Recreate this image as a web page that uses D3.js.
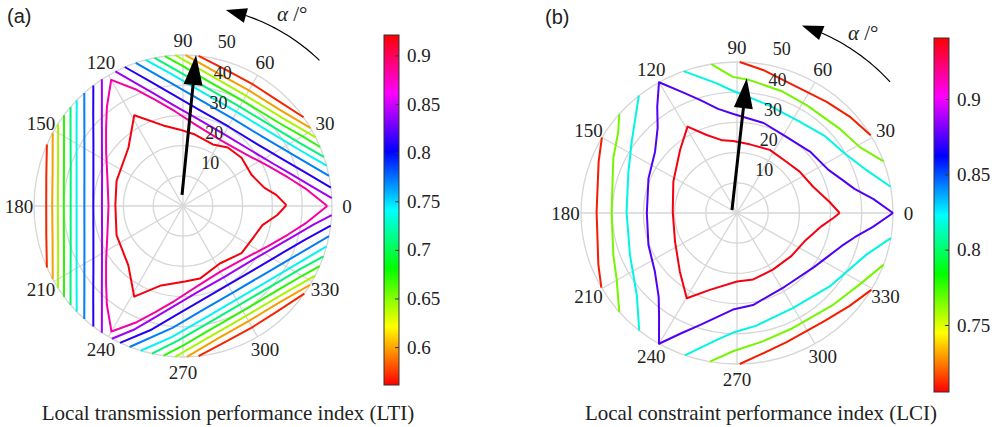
<!DOCTYPE html>
<html lang="en">
<head>
<meta charset="UTF-8">
<title>LTI / LCI polar contours</title>
<style>
  body { margin: 0; background: #fff; }
  svg { display: block; }
  text { font-family: "Liberation Serif", "Times New Roman", serif; fill: #222; }
</style>
</head>
<body>
<div id="chart"></div>
<script src="https://d3js.org/d3.v7.min.js"></script>
<script>
// shared polar grid
var angleTicks = [0, 30, 60, 90, 120, 150, 180, 210, 240, 270, 300, 330];
var radiusTicks = [10, 20, 30, 40, 50];

// (a) local transmission performance index
var ltiRange = [0.561, 0.921];
var ltiTicks = [0.6, 0.65, 0.7, 0.75, 0.8, 0.85, 0.9];
var ltiLevels = [0.57, 0.60, 0.64, 0.67, 0.71, 0.74, 0.77, 0.81, 0.84, 0.88, 0.918];
// [level index, [[angle deg, radius], ...]]
var ltiLines = [
  [0, [[84,50],[72,47.3],[60,46.6],[48,47.2],[36,50]]],
  [1, [[89,50],[75,45.5],[60,44.2],[45,45.4],[31,50]]],
  [2, [[93,50],[80,44.8],[60,42.2],[40,44.6],[27,50]]],
  [3, [[97,50],[90,46.3],[80,42.6],[60,40.2],[40,42.5],[30,46.2],[23,50]]],
  [4, [[101,50],[92,44.6],[80,40.3],[60,38],[40,40.2],[28,44.4],[19,50]]],
  [5, [[104.5,50],[95,43.8],[80,38.2],[60,36],[40,38.1],[25,43.5],[15.5,50]]],
  [6, [[108.5,50],[95,40.6],[80,35.4],[60,33.4],[40,35.3],[25,40.5],[11.5,50]]],
  [7, [[113,50],[105,42.7],[95,36.9],[80,32.2],[60,30.4],[40,32.1],[25,36.8],[15,42.6],[7,50]]],
  [8, [[117,50],[112,44.3],[105,38.7],[95,33.4],[80,29.2],[60,27.5],[40,29.1],[25,33.3],[15,38.6],[8,44.2],[3,50]]],

  [0, [[156,50],[168,46.9],[180,45.9],[192,46.9],[204,50]]],
  [1, [[151,50],[165,45.3],[180,43.9],[195,45.3],[209,50]]],
  [2, [[147,50],[160,44.6],[180,42],[200,44.6],[213,50]]],
  [3, [[143,50],[150,46.1],[160,42.5],[180,40],[200,42.5],[210,46.1],[217,50]]],
  [4, [[139,50],[148,44.5],[160,40.1],[180,37.7],[200,40.1],[212,44.5],[221,50]]],
  [5, [[135.5,50],[145,43.6],[160,38],[180,35.7],[200,38],[215,43.6],[224.5,50]]],
  [6, [[131.5,50],[145,40.4],[160,35.2],[180,33.1],[200,35.2],[215,40.4],[228.5,50]]],
  [7, [[127,50],[135,42.6],[145,36.7],[160,32],[180,30.1],[200,32],[215,36.7],[225,42.6],[233,50]]],
  [8, [[123,50],[128,44.2],[135,38.5],[145,33.2],[160,28.9],[180,27.2],[200,28.9],[215,33.2],[225,38.5],[232,44.2],[237,50]]],

  [0, [[276,50],[288,47.1],[300,46.4],[312,47.1],[324.5,50]]],
  [1, [[271.5,50],[285,45.4],[300,44],[315,45.4],[328.5,50]]],
  [2, [[267,50],[280,44.7],[300,42.1],[320,44.7],[332.5,50]]],
  [3, [[262.5,50],[270,46.2],[280,42.6],[300,40.1],[320,42.6],[330,46.2],[336.5,50]]],
  [4, [[258,50],[268,44.5],[280,40.2],[300,37.8],[320,40.2],[332,44.5],[340.5,50]]],
  [5, [[253.5,50],[265,43.6],[280,38.1],[300,35.8],[320,38.1],[335,43.6],[344.5,50]]],
  [6, [[249,50],[265,40.5],[280,35.3],[300,33.2],[320,35.3],[335,40.5],[348.5,50]]],
  [7, [[245,50],[255,42.6],[265,36.8],[280,32.1],[300,30.2],[320,32.1],[335,36.8],[345,42.6],[352.5,50]]],
  [8, [[241.5,50],[248,44.2],[255,38.5],[265,33.2],[280,28.9],[300,27.3],[320,28.9],[335,33.2],[345,38.5],[352,44.2],[356.5,50]]],

  [9, [[0,48.4],[8,41.5],[15,36.5],[25,31.5],[40,27],[60,25.2],[80,27],[95,31.5],[105,36.5],[112,41.5],[120,48.2],
       [128,41.5],[135,36.5],[145,31.5],[160,27],[180,25],[200,27],[215,31.5],[225,36.5],[232,41.5],[240,48],
       [248,41.5],[255,36.5],[265,31.5],[280,27],[300,25.1],[320,27],[335,31.5],[345,36.5],[352,41.5],[360,48.4]]],
  [10, [[0.5,34.7],[6.7,31.5],[12.4,28],[24.2,25.2],[39.1,25.3],[52.2,24.5],[63.8,22.7],[80.4,24],[92.3,25.3],[104,27.5],[118.6,34.2],
        [133.5,26.6],[159.5,23.8],[179,22.7],[203.4,24.3],[227,26.9],[241.4,34.2],
        [254.4,27.3],[271.5,25],[283.3,24.7],[303,22.7],[321.5,25.1],[333.8,25.6],[346.6,27.4],[354.6,31.8],[360.5,34.7]]]
];

// (b) local constraint performance index
var lciRange = [0.7055, 0.9405];
var lciTicks = [0.75, 0.8, 0.85, 0.9];
var lciLevels = [0.71, 0.765, 0.82, 0.875, 0.938];
var lciLines = [
  [0, [[89,50],[80,48.1],[64,45.9],[52,46.7],[41.5,48.2],[31,50]]],
  [0, [[150,50],[159,47.5],[179.5,45],[201,47.6],[209.6,50]]],
  [0, [[271,50],[279,47.5],[290.4,45.6],[307.6,45.4],[319.4,47.4],[329.4,50]]],
  [1, [[99.5,50],[91.7,45.1],[84.7,44.2],[70,42.8],[58,42.1],[40,43.2],[29,45],[20,50]]],
  [1, [[139,50],[145,46.5],[155.4,43.6],[179.4,40.2],[199.3,42],[210,44.5],[221,50]]],
  [1, [[260,50],[268.4,45.8],[281,43.3],[295,42.1],[315.4,43.3],[329,45.9],[340,50]]],
  [2, [[110,50],[98.6,43.4],[92,40.5],[75,37.2],[57,36.3],[42,38],[29.5,39.8],[19,43.8],[10,50]]],
  [2, [[129,50],[145,41.2],[158.5,37.4],[179.4,35.4],[202,37],[220.3,42.1],[231.2,50]]],
  [2, [[250.5,50],[261,42.6],[268,39.7],[279.5,37.8],[299.6,36.2],[320.7,38.4],[341.6,43.7],[350.4,50]]],
  [3, [[0,50],[6,44],[12,38.5],[18,35.5],[26,32.6],[41,31],[60,29.8],[74,31],[92,32.8],[100,35],[107.6,39.3],[114,44],[120,50],
       [126,43.5],[132,38],[142.3,33.2],[158,30.6],[180,28.9],[200.5,30.3],[216.4,32.7],[228,37.5],[234,42.5],[240,50],
       [246,43.5],[252.2,39],[267.7,32],[279.6,30.9],[302,28.8],[324,30.5],[334,32.6],[342,35.3],[348,38.6],[354,43.8],[360,50]]],
  [4, [[0,32.9],[7,29.9],[19.6,25.9],[34.3,24.3],[47,23.2],[63.3,23.4],[79.8,23.1],[93,23.9],[101,24.5],[110.6,27.6],[119,32.7],
       [131.2,27.7],[153,22.9],[179,20.6],[205.5,22],[226.7,26.7],[240.3,32.5],
       [251.1,26.9],[270,22.7],[283.3,22.6],[301.5,22],[320.6,22.5],[336.6,23.6],[350.7,27.4],[356.8,30.8],[360,32.9]]]
];

// direction arrows: [tail, tip] as [angle deg, radius]
var ltiArrow = [[95, 3.7], [85, 50.2]];
var lciArrow = [[148, 1.9], [86, 44.7]];

var svg = d3.select("#chart").append("svg")
    .attr("width", 997)
    .attr("height", 427)
    .style("background", "#fff");

var defs = svg.append("defs");
var rad = Math.PI / 180;

function hue(t, l) {
    return d3.hsl(t * 360, 1, l).formatHex();
}

function triangle(tip, base, hw) {
    var dx = tip[0] - base[0], dy = tip[1] - base[1], L = Math.hypot(dx, dy);
    var nx = -dy / L * hw, ny = dx / L * hw;
    return [tip, [base[0] + nx, base[1] + ny], [base[0] - nx, base[1] - ny]];
}

function drawPanel(cfg) {
    var g = svg.append("g");
    var rx = d3.scaleLinear().domain([0, 50]).range([0, cfg.rx]);
    var ry = d3.scaleLinear().domain([0, 50]).range([0, cfg.ry]);
    var pt = function (d) {
        return [cfg.cx + rx(d[1]) * Math.cos(d[0] * rad), cfg.cy - ry(d[1]) * Math.sin(d[0] * rad)];
    };
    var t = d3.scaleLinear().domain(cfg.range).range([0, 1]);

    // grid rings and spokes
    g.append("g").selectAll("ellipse").data(radiusTicks).join("ellipse")
        .attr("cx", cfg.cx).attr("cy", cfg.cy)
        .attr("rx", function (d) { return rx(d); })
        .attr("ry", function (d) { return ry(d); })
        .attr("fill", "none").attr("stroke", "#d6d6d6").attr("stroke-width", 1.3);
    g.append("g").selectAll("line").data(angleTicks).join("line")
        .attr("x1", cfg.cx).attr("y1", cfg.cy)
        .attr("x2", function (d) { return pt([d, 50])[0]; })
        .attr("y2", function (d) { return pt([d, 50])[1]; })
        .attr("stroke", "#d6d6d6").attr("stroke-width", 1.3);

    // contour lines
    var line = d3.line()
        .x(function (d) { return pt(d)[0]; })
        .y(function (d) { return pt(d)[1]; });
    g.append("g").selectAll("path").data(cfg.lines).join("path")
        .attr("d", function (d) { return line(d[1]); })
        .attr("fill", "none")
        .attr("stroke", function (d) { return hue(t(cfg.levels[d[0]]), 0.48); })
        .attr("stroke-width", 2)
        .attr("stroke-linejoin", "round");

    // angle labels
    g.append("g").selectAll("text").data(angleTicks).join("text")
        .attr("x", function (d) { return pt([d, 55])[0]; })
        .attr("y", function (d) { return pt([d, 55])[1]; })
        .attr("dy", "0.35em")
        .attr("text-anchor", "middle")
        .style("font-size", "19px")
        .text(function (d) { return d; });

    // radius labels
    g.append("g").selectAll("text").data(radiusTicks).join("text")
        .attr("x", function (d) { return cfg.cx + 23 + 0.14 * rx(d); })
        .attr("y", function (d) { return cfg.cy - ry(d) - 13; })
        .attr("dy", "0.35em")
        .attr("text-anchor", "middle")
        .style("font-size", "18px")
        .text(function (d) { return d; });

    // black direction arrow
    var tail = pt(cfg.arrow[0]), tip = pt(cfg.arrow[1]);
    var L = Math.hypot(tip[0] - tail[0], tip[1] - tail[1]);
    var ux = (tip[0] - tail[0]) / L, uy = (tip[1] - tail[1]) / L;
    var base = [tip[0] - 30 * ux, tip[1] - 30 * uy];
    g.append("line")
        .attr("x1", tail[0]).attr("y1", tail[1])
        .attr("x2", base[0] + 2 * ux).attr("y2", base[1] + 2 * uy)
        .attr("stroke", "#000").attr("stroke-width", 3);
    g.append("polygon")
        .attr("points", triangle(tip, base, 9.5).join(" "))
        .attr("fill", "#000");

    // alpha rotation arc
    var arcPts = d3.range(cfg.alpha[0], cfg.alpha[1] + 0.01, 1).map(function (a) { return pt([a, cfg.alpha[3]]); });
    g.append("path")
        .attr("d", d3.line()(arcPts))
        .attr("fill", "none").attr("stroke", "#000").attr("stroke-width", 1.2);
    g.append("polygon")
        .attr("points", triangle(pt([cfg.alpha[2], cfg.alpha[3]]), pt([cfg.alpha[1], cfg.alpha[3]]), 7.5).join(" "))
        .attr("fill", "#000");
    var at = g.append("text")
        .attr("x", cfg.alphaText[0]).attr("y", cfg.alphaText[1])
        .style("font-size", "21px");
    at.append("tspan").style("font-style", "italic").text("\u03b1");
    at.append("tspan").text(" /\u00b0");

    // panel tag
    g.append("text")
        .attr("x", cfg.tag[0]).attr("y", cfg.tag[1])
        .style("font-family", "'Liberation Sans', Arial, sans-serif")
        .style("font-size", "20px")
        .text(cfg.tagText);

    // caption
    g.append("text")
        .attr("x", cfg.caption[0]).attr("y", cfg.caption[1])
        .attr("text-anchor", "middle")
        .style("font-size", "21px")
        .text(cfg.captionText);

    // colorbar
    var gid = "grad" + cfg.tagText.replace(/\W/g, "");
    var grad = defs.append("linearGradient").attr("id", gid)
        .attr("x1", 0).attr("y1", 1).attr("x2", 0).attr("y2", 0);
    grad.selectAll("stop").data(d3.range(0, 1.0001, 1 / 24)).join("stop")
        .attr("offset", function (d) { return d; })
        .attr("stop-color", function (d) { return hue(d, 0.5); });
    var bar = cfg.bar;
    g.append("rect")
        .attr("x", bar[0]).attr("y", bar[1]).attr("width", bar[2]).attr("height", bar[3])
        .attr("fill", "url(#" + gid + ")")
        .attr("stroke", "#333").attr("stroke-width", 1);
    var cs = d3.scaleLinear().domain(cfg.range).range([bar[1] + bar[3], bar[1]]);
    var ax = g.append("g")
        .attr("transform", "translate(" + (bar[0] + bar[2]) + ",0)")
        .call(d3.axisRight(cs).tickValues(cfg.ticks).tickSize(-4).tickPadding(8)
            .tickFormat(function (d) { return String(+d.toFixed(2)); }));
    ax.select(".domain").remove();
    ax.selectAll(".tick line").attr("stroke", "#333");
    ax.selectAll(".tick text")
        .attr("fill", "#222")
        .style("font-family", "'Liberation Serif', 'Times New Roman', serif")
        .style("font-size", "19px");
}

drawPanel({
    cx: 183, cy: 206, rx: 149, ry: 151,
    range: ltiRange, ticks: ltiTicks, levels: ltiLevels, lines: ltiLines,
    arrow: ltiArrow,
    alpha: [46.5, 71.5, 77.5, 66.5], alphaText: [277, 21],
    tag: [7, 23], tagText: "(a)",
    caption: [228, 420], captionText: "Local transmission performance index (LTI)",
    bar: [384, 35, 15, 350]
});

drawPanel({
    cx: 737, cy: 213, rx: 156, ry: 151,
    range: lciRange, ticks: lciTicks, levels: lciLevels, lines: lciLines,
    arrow: lciArrow,
    alpha: [41.5, 65.5, 71.5, 65.5], alphaText: [848, 40],
    tag: [545, 24], tagText: "(b)",
    caption: [761, 420], captionText: "Local constraint performance index (LCI)",
    bar: [934, 38, 15, 354]
});
</script>
</body>
</html>
